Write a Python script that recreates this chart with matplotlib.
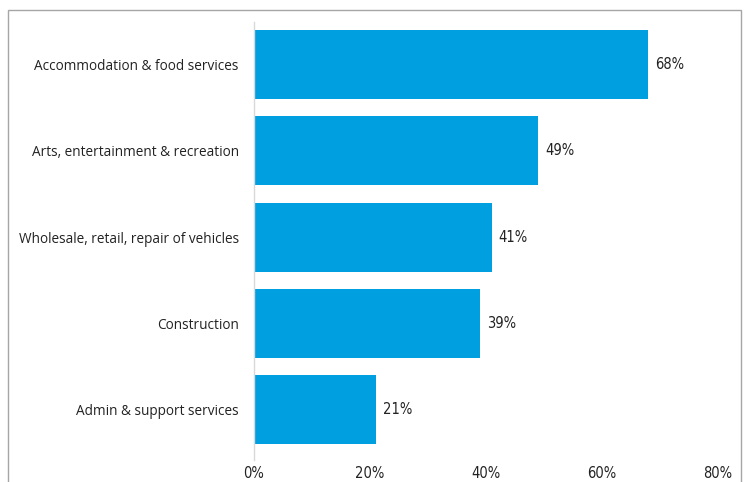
import matplotlib
matplotlib.use("Agg")
import matplotlib.pyplot as plt
from matplotlib.patches import Rectangle

categories = ["Accommodation & food services", "Arts, entertainment & recreation",
              "Wholesale, retail, repair of vehicles", "Construction", "Admin & support services"]
values = [68, 49, 41, 39, 21]
xticks = [0, 20, 40, 60, 80]

W, H = 747, 482
fig = plt.figure(figsize=(W / 100, H / 100), dpi=100)
ax = fig.add_axes([254 / W, 1 - 460 / H, (718 - 254) / W, (460 - 22) / H])

bar_color = "#009FE0"
ypos = list(range(len(categories)))
ax.barh(ypos, values, height=0.8, color=bar_color)
ax.set_ylim(4.58, -0.49)
ax.set_xlim(0, 80)

for y, v in zip(ypos, values):
    ax.text(v + 1.2, y, f"{v}%", va="center", ha="left", fontsize=10.5,
            family="DejaVu Sans", fontstretch="condensed", color="#222222")

ax.set_yticks(ypos)
ax.set_yticklabels(categories, fontsize=9.8, family="Open Sans", color="#222222")
ax.set_xticks(xticks)
ax.set_xticklabels([f"{t}%" for t in xticks], fontsize=10.5, family="DejaVu Sans",
                   fontstretch="condensed", color="#222222")
ax.tick_params(axis="both", length=0)
ax.tick_params(axis="y", pad=11)
ax.tick_params(axis="x", pad=4)
for s in ["top", "right", "bottom"]:
    ax.spines[s].set_visible(False)
ax.spines["left"].set_color("#d9d9d9")
ax.spines["left"].set_linewidth(1)

# outer chart border
fig.patches.append(Rectangle((8 / W, -0.05), (741 - 8) / W, 1 - 10 / H + 0.05,
                             transform=fig.transFigure, fill=False,
                             edgecolor="#a6a6a6", linewidth=1))

fig.savefig("out.png", dpi=100)
